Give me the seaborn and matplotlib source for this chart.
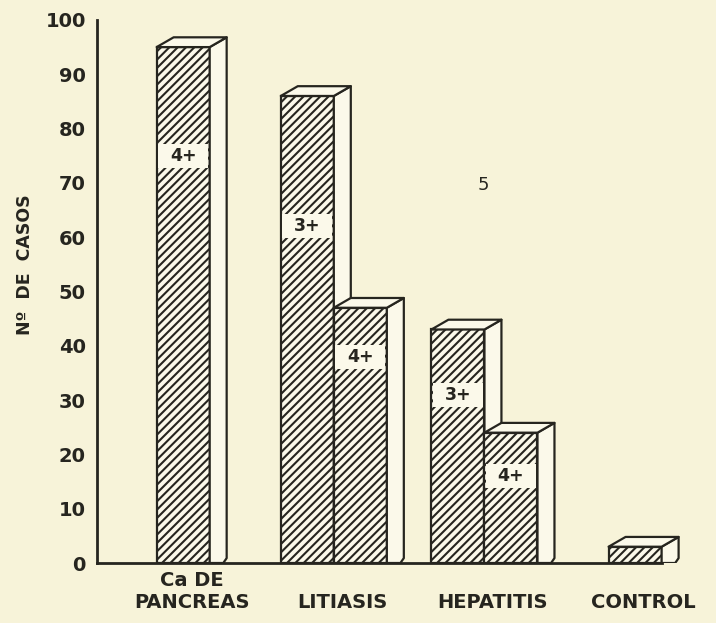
import numpy as np
import pandas as pd
import matplotlib
matplotlib.use("Agg")
import matplotlib.pyplot as plt
from matplotlib.patches import Polygon, Rectangle
import seaborn as sns

# ─── Data ───────────────────────────────────────────────────────────────────
groups = ["Ca DE\nPANCREAS", "LITIASIS", "HEPATITIS", "CONTROL"]
bar_group = ["Ca DE\nPANCREAS", "LITIASIS", "LITIASIS", "HEPATITIS", "HEPATITIS", "CONTROL"]
bar_grade = ["4+", "3+", "4+", "3+", "4+", ""]
bar_cases = [95, 86, 47, 43, 24, 3]
grade_label_at = [75, 62, 38, 31, 16, None]   # where the grade tag sits on each bar
y_ticks = [0, 10, 20, 30, 40, 50, 60, 70, 80, 90, 100]

PAPER = "#f7f3d9"
FACE = "#fbf9ea"
INK = "#26251f"

sns.set_style("white")
plt.rcParams["font.family"] = ["DejaVu Sans"]
plt.rcParams["hatch.linewidth"] = 1.5
plt.rcParams["hatch.color"] = INK

# bar positions: groups on integer slots, bars of a group side by side
bar_w = 0.352
pos = []
for g in bar_group:
    gi = groups.index(g)
    members = [i for i, b in enumerate(bar_group) if b == g]
    k = len([p for p in pos if abs(p - gi) < 0.5])
    pos.append(gi + (k - (len(members) - 1) / 2) * bar_w)

df = pd.DataFrame({"pos": pos, "cases": bar_cases, "grade": bar_grade})

fig = plt.figure(figsize=(7.16, 6.23), dpi=100, facecolor=PAPER)
ax = fig.add_axes([0.1355, 0.0963, 0.842, 0.8717], facecolor=PAPER)

sns.barplot(data=df, x="pos", y="cases", native_scale=True, width=1.0,
            color=FACE, edgecolor=INK, linewidth=1.6, hatch="////",
            errorbar=None, saturation=1, ax=ax)

bars = sorted(ax.patches, key=lambda p: p.get_x())
dx = 0.32 * bar_w
dy = 1.8
for i, (bar, grade, lab_y) in enumerate(zip(bars, bar_grade, grade_label_at)):
    z = 3 + i
    bar.set_zorder(z)
    x0, x1, h = bar.get_x(), bar.get_x() + bar.get_width(), bar.get_height()
    top = Polygon([(x0, h), (x1, h), (x1 + dx, h + dy), (x0 + dx, h + dy)],
                  closed=True, facecolor=FACE, edgecolor=INK, lw=1.6,
                  joinstyle="round", zorder=z)
    side = Polygon([(x1, 0), (x1 + 0.8 * dx, 0), (x1 + dx, 0.5 * dy),
                    (x1 + dx, h + dy), (x1, h)],
                   closed=True, facecolor=FACE, edgecolor=INK, lw=1.6,
                   joinstyle="round", zorder=z)
    ax.add_patch(side)
    ax.add_patch(top)
    if lab_y is not None:
        ax.add_patch(Rectangle((x0 + 0.01, lab_y - 2.2), x1 - x0 - 0.02, 4.4,
                               facecolor=FACE, edgecolor="none", zorder=z + 0.5))
        ax.text((x0 + x1) / 2, lab_y, grade, ha="center", va="center",
                fontsize=12.5, fontweight="bold", color=INK, zorder=z + 0.6)

# axes styling
ax.set_xlim(-0.572, 3.43)
ax.set_ylim(0, 100)
ax.set_yticks(y_ticks)
ax.set_yticklabels([str(t) for t in y_ticks], fontsize=14, fontweight="bold", color=INK)
ax.set_xticks([i + dx / 2 for i in range(len(groups))])
ax.set_xticklabels([g if "\n" in g else "\n" + g for g in groups],
                   fontsize=14, fontweight="bold", color=INK, linespacing=1.2)
ax.tick_params(axis="y", direction="out", length=6, width=1.8, color=INK, pad=2)
ax.tick_params(axis="x", length=0, pad=6)
ax.set_xlabel("")
ax.set_ylabel("")
sns.despine(ax=ax, top=True, right=True)
for s in ["left", "bottom"]:
    ax.spines[s].set_linewidth(2.0)
    ax.spines[s].set_color(INK)
    ax.spines[s].set_zorder(20)
ax.spines["bottom"].set_bounds(-0.572, bars[-1].get_x() + bar_w)

fig.text(25 / 716, 1 - 265 / 623, "Nº  DE  CASOS", rotation=90, ha="center",
         va="center", fontsize=12.5, fontweight="bold", color=INK)
fig.text(483 / 716, 1 - 185 / 623, "5", ha="center", va="center",
         fontsize=13, color=INK)

fig.savefig("out.png", dpi=100, facecolor=PAPER)
